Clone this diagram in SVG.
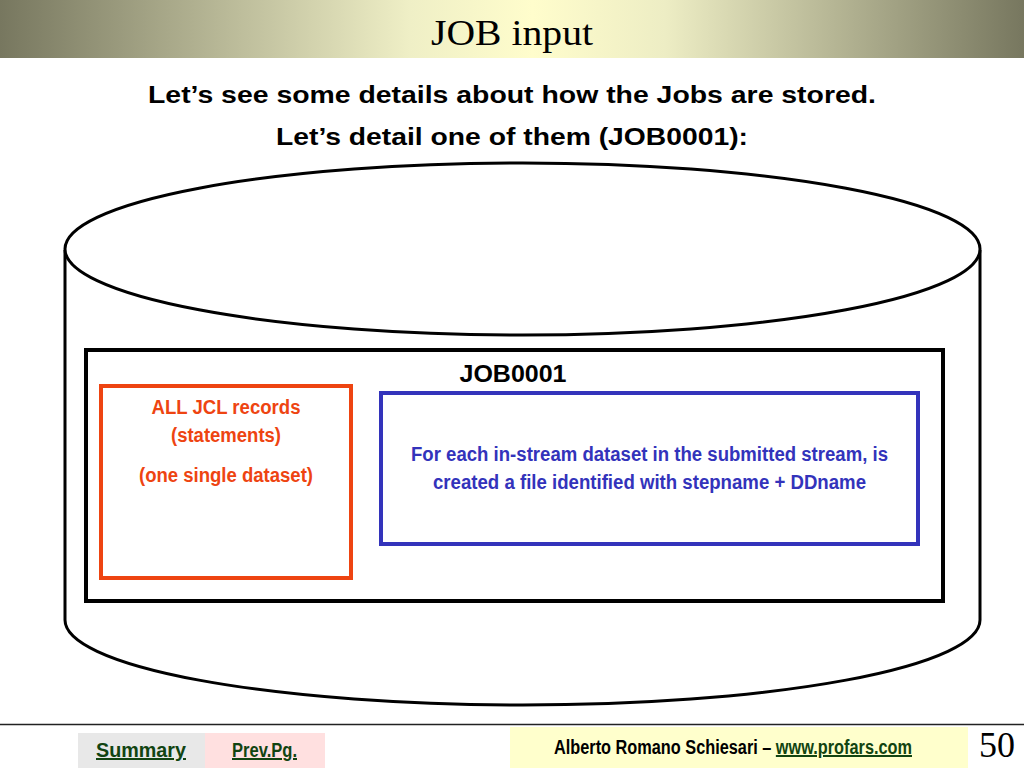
<svg xmlns="http://www.w3.org/2000/svg" width="1024" height="768" viewBox="0 0 1024 768">
<defs>
<linearGradient id="hdr" x1="0" y1="0" x2="1" y2="0">
<stop offset="0" stop-color="#77775f"/>
<stop offset="0.4" stop-color="#efefc6"/>
<stop offset="0.52" stop-color="#fffdcc"/>
<stop offset="0.65" stop-color="#ededc4"/>
<stop offset="1" stop-color="#77775f"/>
</linearGradient>
<style>
.ttl{font-family:"Liberation Serif","Times New Roman",serif;font-size:36px;fill:#000}
.sub{font-family:"Liberation Sans",Arial,sans-serif;font-weight:bold;font-size:23px;fill:#000;text-anchor:middle}
.nar{font-family:"Liberation Sans Narrow","Arial Narrow","Liberation Sans",sans-serif;font-weight:bold;font-size:20px;text-anchor:middle}
.st{text-anchor:start}
.red{fill:#ee4411}
.blue{fill:#3333bb}
.lnk{fill:#114411;text-decoration:underline}
</style>
</defs>
<rect x="0" y="0" width="1024" height="768" fill="#fff"/>
<g id="header">
<rect x="0" y="0" width="1024" height="58" fill="url(#hdr)"/>
<text class="ttl" x="512" y="45" text-anchor="middle" textLength="162" lengthAdjust="spacingAndGlyphs">JOB input</text>
</g>
<g id="subtitle">
<text class="sub" x="512" y="103" textLength="728" lengthAdjust="spacingAndGlyphs">Let’s see some details about how the Jobs are stored.</text>
<text class="sub" x="512" y="145" textLength="472" lengthAdjust="spacingAndGlyphs">Let’s detail one of them (JOB0001):</text>
</g>
<g id="cylinder" fill="#fff" stroke="#000" stroke-width="3">
<path d="M65,250 L65,620 A457.5,85 0 0 0 980,620 L980,250"/>
<ellipse cx="522.5" cy="249" rx="457.5" ry="86"/>
</g>
<g id="job0001">
<rect x="86" y="350" width="857" height="251" fill="#fff" stroke="#000" stroke-width="4"/>
<text class="sub" x="513" y="382" font-size="22" textLength="107" lengthAdjust="spacingAndGlyphs">JOB0001</text>
</g>
<g id="jcl">
<rect x="101" y="386" width="250" height="192" fill="#fff" stroke="#ee4411" stroke-width="4"/>
<text class="nar red" x="226" y="414" textLength="149" lengthAdjust="spacingAndGlyphs">ALL JCL records</text>
<text class="nar red" x="226" y="442" textLength="110" lengthAdjust="spacingAndGlyphs">(statements)</text>
<text class="nar red" x="226" y="482" textLength="174" lengthAdjust="spacingAndGlyphs">(one single dataset)</text>
</g>
<g id="instream">
<rect x="381" y="393" width="537" height="151" fill="#fff" stroke="#3333bb" stroke-width="4"/>
<text class="nar blue" x="649.5" y="461" textLength="477" lengthAdjust="spacingAndGlyphs">For each in-stream dataset in the submitted stream, is</text>
<text class="nar blue" x="649.5" y="489" textLength="433" lengthAdjust="spacingAndGlyphs">created a file identified with stepname + DDname</text>
</g>
<g id="footer">
<line x1="0" y1="724.5" x2="1024" y2="724.5" stroke="#222" stroke-width="1.5"/>
<rect x="78" y="733" width="127" height="35" fill="#e8e8e8"/>
<rect x="205" y="733" width="120" height="35" fill="#ffe0e0"/>
<text class="nar lnk" x="141" y="757" font-size="19" textLength="90" lengthAdjust="spacingAndGlyphs">Summary</text>
<text class="nar lnk" x="264.5" y="757" font-size="17" textLength="65" lengthAdjust="spacingAndGlyphs">Prev.Pg.</text>
<rect x="510" y="727" width="458" height="41" fill="#ffffcc"/>
<text class="nar st" x="554" y="754" font-size="17" fill="#000" textLength="358" lengthAdjust="spacingAndGlyphs">Alberto Romano Schiesari – <tspan class="lnk">www.profars.com</tspan></text>
<text class="ttl" x="997" y="757" font-size="32" text-anchor="middle">50</text>
</g>
</svg>
